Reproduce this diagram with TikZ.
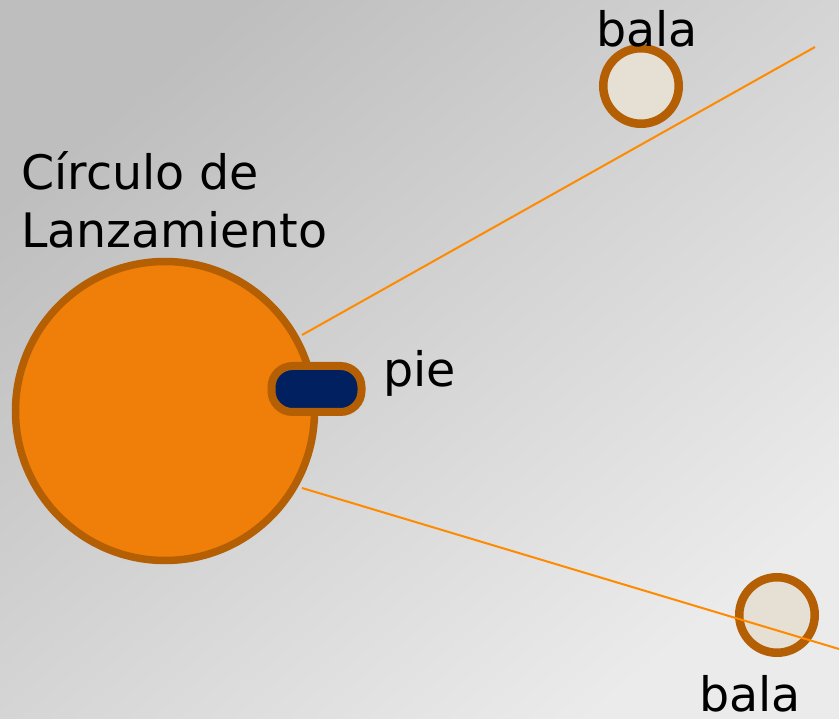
\documentclass[tikz,border=0pt]{standalone}
\usepackage{fontspec}
\setmainfont{DejaVu Sans}
\definecolor{bgdark}{HTML}{BEBEBE}
\definecolor{bglight}{HTML}{EBEBEB}
\definecolor{ringorange}{HTML}{F07F09}
\definecolor{rimbrown}{HTML}{B45F04}
\definecolor{navy}{HTML}{002060}
\definecolor{ballfill}{HTML}{E5DFD4}
\definecolor{lineorange}{HTML}{FF8A00}
\begin{document}
\begin{tikzpicture}[x=1pt,y=-1pt,
  lbl/.style={inner sep=0pt,anchor=base west,font=\fontsize{47.5}{58}\selectfont},
  ball/.style={circle,draw=rimbrown,line width=8.5pt,fill=ballfill,minimum size=75.5pt,inner sep=0pt},
  ray/.style={draw=lineorange,line width=2pt}]
\useasboundingbox (0,0) rectangle (839,719);
\shade[top color=bgdark,bottom color=bglight,shading angle=40] (0,0) rectangle (839,719);
% throwing circle
\node[circle,draw=rimbrown,line width=7.5pt,fill=ringorange,minimum size=299pt,inner sep=0pt] (ring) at (165,411) {};
% foot
\node[rounded corners=21pt,draw=rimbrown,line width=8pt,fill=navy,minimum width=90pt,minimum height=46pt,inner sep=0pt] (pie) at (316.5,389) {};
% balls
\node[ball] (balatop) at (641,86) {};
\node[ball] (balabot) at (777,615) {};
% rays
\coordinate (t1) at (302,335);
\coordinate (t2) at (815,47);
\coordinate (b1) at (302,488);
\coordinate (b2) at (839,649);
\draw[ray] (t1) -- (t2);
\draw[ray] (b1) -- (b2);
% labels
\node[lbl] (lt) at (596,47) {bala};
\node[lbl] (lc1) at (21,190) {Círculo de};
\node[lbl] (lc2) at (21,248) {Lanzamiento};
\node[lbl] (lp) at (383,387) {pie};
\node[lbl] (lb) at (699,711) {bala};
\end{tikzpicture}
\end{document}
